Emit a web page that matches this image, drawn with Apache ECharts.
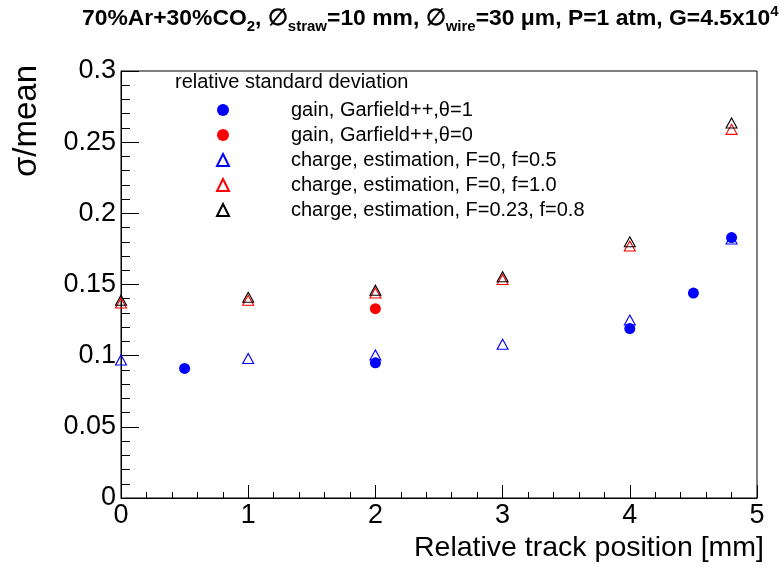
<!DOCTYPE html>
<html>
<head>
<meta charset="utf-8">
<script src="https://cdn.jsdelivr.net/npm/echarts@6/dist/echarts.min.js"></script>
<style>html,body{margin:0;padding:0;background:#fff}#c{width:784px;height:568px}</style>
</head>
<body>
<div id="c"></div>
<script>
// Data
const gainTheta1X = [0.5, 2, 4, 4.5, 4.8];
const gainTheta1Y = [0.091, 0.095, 0.119, 0.144, 0.183];
const gainTheta0X = [2];
const gainTheta0Y = [0.133];
const chargeX = [0, 1, 2, 3, 4, 4.8];
const chargeF0f05Y = [0.097, 0.098, 0.1005, 0.108, 0.125, 0.182];
const chargeF0f10Y = [0.137, 0.139, 0.144, 0.1535, 0.177, 0.259];
const chargeF023f08Y = [0.139, 0.141, 0.146, 0.1555, 0.180, 0.2635];
const seriesNames = [
  'gain, Garfield++,\u03b8=1',
  'gain, Garfield++,\u03b8=0',
  'charge, estimation, F=0, f=0.5',
  'charge, estimation, F=0, f=1.0',
  'charge, estimation, F=0.23, f=0.8'
];
const xTicks = [0, 1, 2, 3, 4, 5];
const yTicks = [0, 0.05, 0.1, 0.15, 0.2, 0.25, 0.3];

const zip = (xs, ys) => xs.map((x, i) => [x, ys[i]]);
const FONT = 'Liberation Sans, Arial, Helvetica, sans-serif';

const chart = echarts.init(document.getElementById('c'), null, {renderer: 'canvas'});

function circleSeries(name, data, color) {
  return {
    name, type: 'scatter', data, symbol: 'circle', symbolSize: 11, z: 4,
    itemStyle: {color: color, borderWidth: 0, opacity: 1},
    emphasis: {disabled: true}
  };
}
function triSeries(name, data, color, z) {
  return {
    name, type: 'scatter', data, symbol: 'triangle', symbolSize: [11, 10], z: z,
    itemStyle: {color: 'rgba(255,255,255,0)', borderColor: color, borderWidth: 1.1, opacity: 1},
    emphasis: {disabled: true}
  };
}

const option = {
  backgroundColor: '#fff',
  animation: false,
  title: {
    left: 82, top: 4, padding: 0,
    text: '{b|70%Ar+30%CO}{s|2}{b|, \u2205}{s|straw}{b|=10 mm, \u2205}{s|wire}{b|=30 \u03bcm, P=1 atm, G=4.5x10}{p|4}',
    textStyle: {
      fontFamily: FONT,
      rich: {
        b: {fontSize: 22.9, fontWeight: 'bold', fontFamily: FONT, color: '#000', lineHeight: 30},
        s: {fontSize: 15, fontWeight: 'bold', fontFamily: FONT, color: '#000', lineHeight: 16, verticalAlign: 'bottom'},
        p: {fontSize: 15, fontWeight: 'bold', fontFamily: FONT, color: '#000', lineHeight: 16, verticalAlign: 'top'}
      }
    }
  },
  grid: {left: 121, right: 27, top: 71, bottom: 70, show: true, borderColor: '#000', borderWidth: 1, backgroundColor: 'transparent'},
  xAxis: {
    type: 'value', min: xTicks[0], max: xTicks[xTicks.length - 1], interval: 1,
    axisLine: {show: true, onZero: false, lineStyle: {color: '#000', width: 1}},
    axisTick: {show: true, inside: true, length: 13, lineStyle: {color: '#000'}},
    minorTick: {show: true, splitNumber: 5, length: 6, lineStyle: {color: '#000'}},
    splitLine: {show: false},
    axisLabel: {color: '#000', fontSize: 27, fontFamily: FONT, margin: 4,
      formatter: v => String(parseFloat(v.toFixed(2)))}
  },
  yAxis: {
    type: 'value', min: yTicks[0], max: yTicks[yTicks.length - 1], interval: 0.05,
    axisLine: {show: true, onZero: false, lineStyle: {color: '#000', width: 1}},
    axisTick: {show: true, inside: true, length: 18, lineStyle: {color: '#000'}},
    minorTick: {show: true, splitNumber: 5, length: 9, lineStyle: {color: '#000'}},
    splitLine: {show: false},
    axisLabel: {color: '#000', fontSize: 27, fontFamily: FONT, margin: 5,
      formatter: v => String(parseFloat(v.toFixed(2)))}
  },
  legend: {
    orient: 'vertical', left: 216, top: 100, padding: 0, itemWidth: 12, itemHeight: 12, itemGap: 5,
    selectedMode: false,
    data: seriesNames,
    formatter: n => '{g|}{t|' + n + '}',
    textStyle: {
      color: '#000', fontSize: 20, fontFamily: FONT, lineHeight: 20,
      rich: {g: {width: 57}, t: {fontSize: 20, fontFamily: FONT, color: '#000', lineHeight: 20}}
    }
  },
  graphic: [
    {type: 'text', left: 175, top: 72, style: {text: 'relative standard deviation', font: '20px ' + FONT, fill: '#000'}},
    {type: 'text', right: 20, top: 534, style: {text: 'Relative track position [mm]', font: '28.5px ' + FONT, fill: '#000'}},
    {type: 'text', left: 10, top: 65, rotation: Math.PI / 2, originX: 0, originY: 0,
      style: {text: '\u03c3/mean', font: '33px ' + FONT, fill: '#000'}}
  ],
  series: [
    circleSeries(seriesNames[0], zip(gainTheta1X, gainTheta1Y), '#0000ff'),
    circleSeries(seriesNames[1], zip(gainTheta0X, gainTheta0Y), '#ff0000'),
    triSeries(seriesNames[2], zip(chargeX, chargeF0f05Y), '#0000ff', 2),
    triSeries(seriesNames[3], zip(chargeX, chargeF0f10Y), '#ff0000', 2),
    triSeries(seriesNames[4], zip(chargeX, chargeF023f08Y), '#000000', 3)
  ]
};
chart.setOption(option);
</script>
</body>
</html>
